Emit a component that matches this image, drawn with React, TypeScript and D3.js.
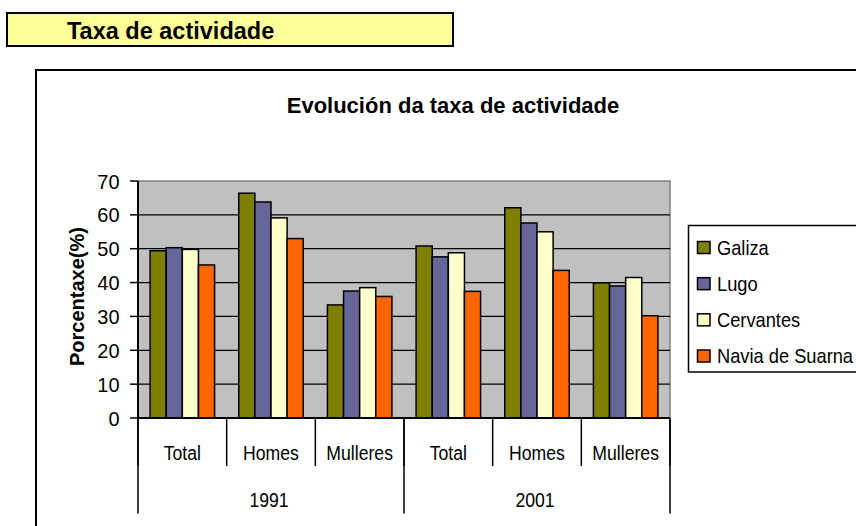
import React from "react";
import * as d3 from "d3";

const years = ["1991", "2001"];
const subCategories = ["Total", "Homes", "Mulleres"];
const seriesNames = ["Galiza", "Lugo", "Cervantes", "Navia de Suarna"];
const seriesColors = ["#808000", "#666699", "#FFFFCC", "#FF6600"];
const galiza = [49.4, 66.4, 33.4, 50.8, 62.1, 39.9];
const lugo = [50.3, 63.8, 37.5, 47.6, 57.6, 39.0];
const cervantes = [49.8, 59.1, 38.5, 48.8, 55.0, 41.5];
const navia = [45.2, 53.0, 35.9, 37.4, 43.6, 30.2];
const yTicks = [0, 10, 20, 30, 40, 50, 60, 70];

const seriesValues = [galiza, lugo, cervantes, navia];

const W = 856;
const H = 526;
const plot = { left: 138, right: 670, top: 181, bottom: 418 };
const FONT = "'Liberation Sans', Arial, sans-serif";

export default function App() {
  const categoryKeys = years.flatMap((y) => subCategories.map((s) => `${y}|${s}`));
  const x0 = d3.scaleBand<string>().domain(categoryKeys).range([plot.left, plot.right]);
  const x1 = d3
    .scaleBand<string>()
    .domain(seriesNames)
    .range([0, x0.bandwidth()])
    .paddingInner(0)
    .paddingOuter(0.75);
  const xYear = d3.scaleBand<string>().domain(years).range([plot.left, plot.right]);
  const y = d3.scaleLinear().domain([0, 70]).range([plot.bottom, plot.top]);
  const legendY = d3.scalePoint<string>().domain(seriesNames).range([247.5, 356]);

  const catBoundaries = categoryKeys.map((k) => x0(k)!).concat([plot.right]);
  const yearBoundaries = years.map((k) => xYear(k)!).concat([plot.right]);

  return (
    <svg
      width={W}
      height={H}
      style={{ position: "absolute", left: 0, top: 0, background: "#fff" }}
      fontFamily={FONT}
    >
      <rect x={0} y={0} width={W} height={H} fill="#fff" />
      {/* chart area border */}
      <rect x={36} y={70} width={1000} height={600} fill="#fff" stroke="#000" strokeWidth={2} />
      {/* header */}
      <rect x={7} y={13} width={446} height={33} fill="#FFFF99" stroke="#000" strokeWidth={2} />
      <text x={67} y={39} fontSize={23.5} fontWeight="bold" fill="#000">
        Taxa de actividade
      </text>
      {/* title */}
      <text x={453} y={112.5} fontSize={22} fontWeight="bold" textAnchor="middle" fill="#000">
        Evolución da taxa de actividade
      </text>
      {/* plot area */}
      <rect
        x={plot.left}
        y={plot.top}
        width={plot.right - plot.left}
        height={plot.bottom - plot.top}
        fill="#C0C0C0"
        stroke="#808080"
        strokeWidth={1.5}
      />
      {yTicks
        .filter((t) => t > 0 && t < 70)
        .map((t) => (
          <line
            key={"g" + t}
            x1={plot.left}
            x2={plot.right}
            y1={y(t)}
            y2={y(t)}
            stroke="#000"
            strokeWidth={1.2}
          />
        ))}
      {/* bars */}
      {seriesNames.map((s, si) =>
        categoryKeys.map((k, ci) => (
          <rect
            key={s + k}
            x={x0(k)! + x1(s)!}
            y={y(seriesValues[si][ci])}
            width={x1.bandwidth()}
            height={y(0) - y(seriesValues[si][ci])}
            fill={seriesColors[si]}
            stroke="#000"
            strokeWidth={1.5}
          />
        ))
      )}
      {/* y axis */}
      <line x1={plot.left} x2={plot.left} y1={plot.top} y2={plot.bottom} stroke="#000" strokeWidth={2} />
      {yTicks.map((t) => (
        <g key={"t" + t}>
          <line x1={plot.left - 8} x2={plot.left} y1={y(t)} y2={y(t)} stroke="#000" strokeWidth={1.5} />
          <text
            transform={`translate(119.5, ${y(t) + 7.5}) scale(0.95, 1)`}
            fontSize={21}
            textAnchor="end"
            fill="#000"
          >
            {t}
          </text>
        </g>
      ))}
      <text
        transform={`translate(84, ${(plot.top + plot.bottom) / 2 - 3}) rotate(-90)`}
        fontSize={20}
        fontWeight="bold"
        textAnchor="middle"
        fill="#000"
      >
        Porcentaxe(%)
      </text>
      {/* x axis */}
      <line x1={plot.left} x2={plot.right} y1={plot.bottom} y2={plot.bottom} stroke="#000" strokeWidth={2} />
      {catBoundaries.map((bx, i) => (
        <line key={"cb" + i} x1={bx} x2={bx} y1={plot.bottom} y2={466} stroke="#000" strokeWidth={1.5} />
      ))}
      {yearBoundaries.map((bx, i) => (
        <line key={"yb" + i} x1={bx} x2={bx} y1={plot.bottom} y2={513.5} stroke="#000" strokeWidth={1.5} />
      ))}
      {categoryKeys.map((k) => (
        <text
          key={"cl" + k}
          transform={`translate(${x0(k)! + x0.bandwidth() / 2}, 460) scale(0.84, 1)`}
          fontSize={21}
          textAnchor="middle"
          fill="#000"
        >
          {k.split("|")[1]}
        </text>
      ))}
      {years.map((yr) => (
        <text
          key={"yl" + yr}
          transform={`translate(${xYear(yr)! + xYear.bandwidth() / 2 - 2}, 506.5) scale(0.84, 1)`}
          fontSize={21}
          textAnchor="middle"
          fill="#000"
        >
          {yr}
        </text>
      ))}
      {/* legend */}
      <rect x={688.5} y={225.5} width={300} height={146.5} fill="#fff" stroke="#000" strokeWidth={1.5} />
      {seriesNames.map((s, si) => (
        <g key={"lg" + s}>
          <rect
            x={697.5}
            y={legendY(s)! - 6}
            width={12.5}
            height={12}
            fill={seriesColors[si]}
            stroke="#000"
            strokeWidth={1.5}
          />
          <text
            transform={`translate(717, ${legendY(s)! + 7}) scale(0.87, 1)`}
            fontSize={21}
            fill="#000"
          >
            {s}
          </text>
        </g>
      ))}
    </svg>
  );
}
